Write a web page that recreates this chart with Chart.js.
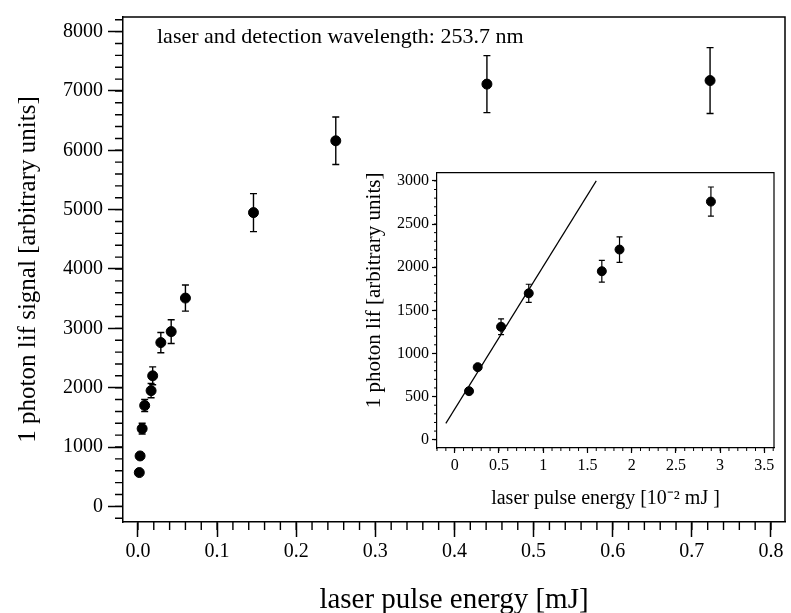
<!DOCTYPE html>
<html>
<head>
<meta charset="utf-8">
<script src="https://cdn.jsdelivr.net/npm/chart.js@4.4.0/dist/chart.umd.min.js"></script>
<style>
  html, body { margin: 0; padding: 0; background: #fff; }
  #wrap { position: relative; width: 791px; height: 613px; }
  #mainChart { position: absolute; left: 0; top: 0; }
  #insetChart { position: absolute; left: 350px; top: 160px; }
</style>
</head>
<body>
<div id="wrap">
  <canvas id="mainChart" width="791" height="613"></canvas>
  <canvas id="insetChart" width="430" height="355"></canvas>
</div>
<script>
// main plot: energy in mJ, signal in arbitrary units
const mainEnergy = [0.0017, 0.0027, 0.0053, 0.0085, 0.0166, 0.0186, 0.0289, 0.042, 0.060, 0.146, 0.250, 0.441, 0.723];
const mainSignal = [570, 850, 1310, 1700, 1950, 2200, 2760, 2945, 3510, 4950, 6160, 7115, 7175];
const mainError  = [0, 0, 90, 100, 120, 150, 170, 200, 220, 320, 400, 480, 555];
const mainXTicks = [0, 0.1, 0.2, 0.3, 0.4, 0.5, 0.6, 0.7, 0.8];
const mainYTicks = [0, 1000, 2000, 3000, 4000, 5000, 6000, 7000, 8000];

// inset: energy in 10^-2 mJ
const insetEnergy = [0.162, 0.26, 0.524, 0.837, 1.663, 1.863, 2.896];
const insetSignal = [563, 841, 1309, 1697, 1953, 2204, 2760];
const insetError  = [0, 0, 91, 105, 126, 148, 169];
const fitEnergy = [-0.1, 1.6];
const fitSignal = [190, 3000];
const insetXTicks = [0, 0.5, 1, 1.5, 2, 2.5, 3, 3.5];
const insetYTicks = [0, 500, 1000, 1500, 2000, 2500, 3000];

const SERIF = "'Liberation Serif', 'Times New Roman', serif";

function pts(xs, ys) {
  return xs.map((x, i) => ({ x: x, y: ys[i] }));
}

// error bars + minor ticks + frame
const extras = {
  id: 'extras',
  beforeDatasetsDraw(chart) {
    const ctx = chart.ctx;
    const o = chart.options.plugins.extras;
    chart.data.datasets.forEach(ds => {
      if (!ds.yErr) return;
      ctx.save();
      ctx.strokeStyle = '#000';
      ctx.lineWidth = o.errWidth;
      ds.data.forEach((p, i) => {
        const e = ds.yErr[i];
        if (!e) return;
        const x = chart.scales.x.getPixelForValue(p.x);
        const y1 = chart.scales.y.getPixelForValue(p.y - e);
        const y2 = chart.scales.y.getPixelForValue(p.y + e);
        ctx.beginPath();
        ctx.moveTo(x, y1); ctx.lineTo(x, y2);
        ctx.moveTo(x - o.cap, y1); ctx.lineTo(x + o.cap, y1);
        ctx.moveTo(x - o.cap, y2); ctx.lineTo(x + o.cap, y2);
        ctx.stroke();
      });
      ctx.restore();
    });
  },
  afterDraw(chart) {
    const ctx = chart.ctx;
    const o = chart.options.plugins.extras;
    const a = chart.chartArea;
    const sx = chart.scales.x, sy = chart.scales.y;
    ctx.save();
    ctx.strokeStyle = '#000';
    ctx.lineWidth = o.minorWidth;
    ctx.beginPath();
    for (let v = Math.ceil(sx.min / o.xMinor) * o.xMinor; v <= sx.max; v += o.xMinor) {
      const px = sx.getPixelForValue(v);
      ctx.moveTo(px, a.bottom); ctx.lineTo(px, a.bottom + o.minorLen);
    }
    for (let v = Math.ceil(sy.min / o.yMinor) * o.yMinor; v <= sy.max; v += o.yMinor) {
      const py = sy.getPixelForValue(v);
      ctx.moveTo(a.left, py); ctx.lineTo(a.left - o.minorLen, py);
    }
    ctx.stroke();
    // top and right frame
    ctx.lineWidth = o.frameWidth;
    ctx.beginPath();
    ctx.moveTo(a.left, a.top); ctx.lineTo(a.right, a.top); ctx.lineTo(a.right, a.bottom);
    ctx.stroke();
    if (o.note) {
      ctx.fillStyle = '#000';
      ctx.font = o.noteFont;
      ctx.textBaseline = 'middle';
      ctx.fillText(o.note, a.left + o.noteDx, a.top + o.noteDy);
    }
    ctx.restore();
  }
};

function axis(opts) {
  return {
    type: 'linear',
    min: opts.min,
    max: opts.max,
    afterBuildTicks: s => { s.ticks = opts.ticks.map(v => ({ value: v })); },
    afterFit: s => { if (opts.width !== undefined) s.width = opts.width; if (opts.height !== undefined) s.height = opts.height; },
    border: { display: true, color: '#000', width: opts.lw },
    grid: { drawOnChartArea: false, drawTicks: true, tickLength: opts.tickLen, tickColor: '#000', tickWidth: opts.lw },
    ticks: {
      color: '#000',
      font: { family: SERIF, size: opts.fontSize },
      padding: opts.pad,
      maxRotation: 0,
      autoSkip: false,
      callback: opts.fmt
    },
    title: {
      display: true,
      text: opts.title,
      align: opts.titleAlign || 'center',
      color: '#000',
      font: { family: SERIF, size: opts.titleSize, lineHeight: opts.titleLH || 1.2 },
      padding: opts.titlePad
    }
  };
}

new Chart(document.getElementById('mainChart'), {
  type: 'scatter',
  data: {
    datasets: [{
      data: pts(mainEnergy, mainSignal),
      yErr: mainError,
      backgroundColor: '#000',
      borderColor: '#000',
      pointRadius: 5,
      pointHoverRadius: 5
    }]
  },
  options: {
    responsive: false,
    animation: false,
    layout: { padding: { top: 14, right: 4, left: 0, bottom: 0 } },
    plugins: {
      legend: { display: false },
      tooltip: { enabled: false },
      extras: {
        errWidth: 1.4, cap: 3.5, minorLen: 8, minorWidth: 1.4, frameWidth: 1.5,
        xMinor: 0.02, yMinor: 200,
        note: 'laser and detection wavelength: 253.7 nm',
        noteFont: '22px ' + SERIF, noteDx: 34, noteDy: 20
      }
    },
    scales: {
      x: axis({ min: -0.0189, max: 0.8177, ticks: mainXTicks, height: 91, lw: 1.5, tickLen: 15,
        fontSize: 20, pad: 3, fmt: v => v.toFixed(1),
        title: 'laser pulse energy [mJ]', titleSize: 29, titleLH: 0.9, titlePad: { top: 4, bottom: 0 } }),
      y: axis({ min: -263, max: 8246, ticks: mainYTicks, width: 123, lw: 1.5, tickLen: 15,
        fontSize: 20, pad: 5, fmt: v => String(v),
        title: '1 photon lif signal [arbitrary units]', titleSize: 25, titlePad: { top: 13, bottom: 4 } })
    }
  },
  plugins: [extras]
});

new Chart(document.getElementById('insetChart'), {
  type: 'scatter',
  data: {
    datasets: [{
      data: pts(insetEnergy, insetSignal),
      yErr: insetError,
      backgroundColor: '#000',
      borderColor: '#000',
      pointRadius: 4.5,
      pointHoverRadius: 4.5
    }, {
      type: 'line',
      data: pts(fitEnergy, fitSignal),
      borderColor: '#000',
      borderWidth: 1.2,
      pointRadius: 0,
      fill: false
    }]
  },
  options: {
    responsive: false,
    animation: false,
    layout: { padding: { top: 8, right: 6, left: 0, bottom: 0 } },
    plugins: {
      legend: { display: false },
      tooltip: { enabled: false },
      extras: {
        errWidth: 1.2, cap: 3, minorLen: 3, minorWidth: 1, frameWidth: 1.2,
        xMinor: 0.1, yMinor: 100
      }
    },
    scales: {
      x: axis({ min: -0.2, max: 3.609, ticks: insetXTicks, height: 67, lw: 1.2, tickLen: 5,
        fontSize: 16, pad: 3, fmt: v => String(v),
        title: 'laser pulse energy [10\u207B\u00B2 mJ ]', titleSize: 20, titlePad: { top: 4, bottom: 4 } }),
      y: axis({ min: -96, max: 3096, ticks: insetYTicks, width: 87, lw: 1.2, tickLen: 5,
        fontSize: 16, pad: 3, fmt: v => String(v),
        title: '1 photon lif [arbitrary units]', titleSize: 21, titleAlign: 'end', titlePad: { top: 12, bottom: 4 } })
    }
  },
  plugins: [extras]
});
</script>
</body>
</html>
